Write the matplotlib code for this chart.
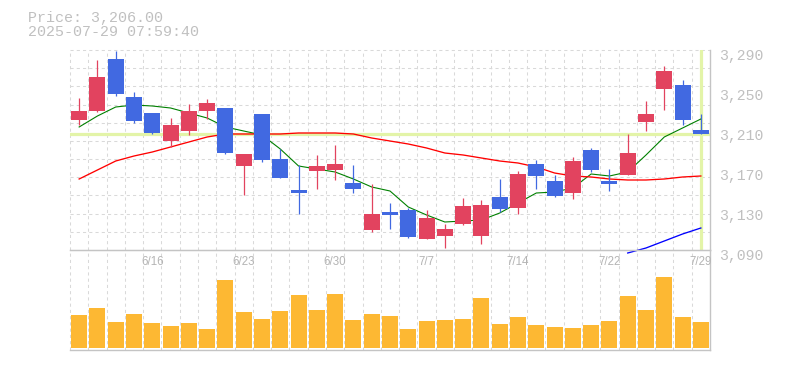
import numpy as np
import matplotlib
matplotlib.use('Agg')
import matplotlib.pyplot as plt
from matplotlib.transforms import ScaledTranslation, blended_transform_factory

# ---------------- data ----------------
dates = ['6/10', '6/11', '6/12', '6/13', '6/16', '6/17', '6/18', '6/19', '6/20',
         '6/23', '6/24', '6/25', '6/26', '6/27', '6/30', '7/1', '7/2', '7/3', '7/4',
         '7/7', '7/8', '7/9', '7/10', '7/11', '7/14', '7/15', '7/16', '7/17', '7/18',
         '7/22', '7/23', '7/24', '7/25', '7/28', '7/29']
label_dates = ['6/16', '6/23', '6/30', '7/7', '7/14', '7/22', '7/29']

opens = [3220, 3229, 3281, 3243, 3227, 3199, 3209, 3229, 3232, 3174, 3226, 3181,
         3150, 3169, 3170, 3157, 3110, 3128, 3130, 3101, 3104, 3116, 3104, 3143,
         3132, 3176, 3159, 3147, 3190, 3159, 3165, 3218, 3251, 3255, 3210]
closes = [3229, 3263, 3246, 3219, 3207, 3215, 3229, 3237, 3187, 3186, 3180, 3162,
          3147, 3174, 3176, 3151, 3126, 3125, 3103, 3122, 3111, 3134, 3135, 3131,
          3166, 3164, 3144, 3179, 3170, 3156, 3187, 3226, 3269, 3220, 3206]
highs = [3242, 3280, 3289, 3248, 3227, 3222, 3236, 3241, 3232, 3186, 3226, 3191,
         3175, 3185, 3195, 3175, 3156, 3137, 3132, 3130, 3116, 3142, 3140, 3161,
         3169, 3180, 3165, 3183, 3192, 3171, 3206, 3239, 3274, 3260, 3226]
lows = [3215, 3228, 3244, 3217, 3206, 3193, 3205, 3221, 3186, 3145, 3178, 3162,
        3126, 3151, 3160, 3147, 3108, 3111, 3102, 3101, 3092, 3115, 3096, 3128,
        3126, 3151, 3143, 3141, 3168, 3149, 3165, 3209, 3230, 3215, 3206]

ma_short = [3213, 3224, 3233, 3235, 3234, 3232, 3227, 3222, 3213, 3209, 3205, 3191,
            3174, 3171, 3168, 3161, 3153, 3149, 3133, 3125, 3118, 3119, 3120, 3127,
            3137, 3147, 3148, 3152, 3166, 3164, 3168, 3185, 3203, 3212, 3221]
ma_mid = [3161, 3170, 3179, 3184, 3188, 3193, 3198, 3203, 3206, 3206, 3206, 3206,
          3207, 3207, 3207, 3206, 3202, 3199, 3196, 3192, 3187, 3185, 3182, 3179,
          3177, 3173, 3167, 3164, 3163, 3161, 3160, 3160, 3161, 3163, 3164]
ma_long = [np.nan] * 30 + [3087, 3092, 3099, 3106, 3112]

volume = [33, 40, 26, 34, 25, 22, 25, 19, 68, 36, 29, 37, 53, 38, 54, 28, 34, 32,
          19, 27, 28, 29, 50, 24, 31, 23, 21, 20, 23, 27, 52, 38, 71, 31, 26]

price_ticks = [3290, 3250, 3210, 3170, 3130, 3090]
price_labels = ['3,290', '3,250', '3,210', '3,170', '3,130', '3,090']

last_price_text = 'Price: 3,206.00'
time_text = '2025-07-29 07:59:40'
last_price = 3206

# ---------------- style ----------------
UP = '#e2435f'
DOWN = '#4169e1'
VOL = '#fdb833'
HL = '#e3f4a8'
GRID = '#d9d9d9'
BORDER = '#c4c4c4'
TXT = '#c0c0c0'

fig = plt.figure(figsize=(7.85, 3.70), dpi=100)
W, H = 785, 370
ax = fig.add_axes([70 / W, 120 / H, 640 / W, 200 / H])
axv = fig.add_axes([70 / W, 20 / H, 640 / W, 100 / H])

n = len(dates)
x = np.arange(n)

for a in (ax, axv):
    a.set_xlim(-0.5, n - 0.5)
    a.set_facecolor('none')
    for s in ('top', 'left'):
        a.spines[s].set_visible(False)
    for s in ('right', 'bottom'):
        a.spines[s].set_color(BORDER)
        a.spines[s].set_linewidth(1.0)
    a.set_xticks([])
    for k in range(n):
        a.axvline(k - 0.5, color=GRID, lw=0.75, ls=(0, (3, 3)), zorder=0, clip_on=False)

ax.set_ylim(3090, 3290)
axv.set_ylim(-2, 98)
axv.set_yticks([])
axv.spines['top'].set_visible(True)
axv.spines['top'].set_color(BORDER)

for k in range(1, 12):
    ax.axhline(3090 + 200 * k / 11, color=GRID, lw=0.75, ls=(0, (3, 3)), zorder=0, clip_on=False)

# highlight lines
ax.axhline(last_price, color=HL, lw=2.3, zorder=1)
ax.axvline(x[-1], ymin=0.005, ymax=0.995, color=HL, lw=2.3, zorder=1)

# moving averages
ax.plot(x, ma_short, color='#008000', lw=0.8, zorder=2)
ax.plot(x, ma_mid, color='#ff0000', lw=0.95, zorder=2)
ax.plot(x, ma_long, color='#0000ff', lw=0.95, zorder=2, clip_on=False)

# candles
o = np.array(opens, float)
c = np.array(closes, float)
cols = [UP if ci >= oi else DOWN for oi, ci in zip(o, c)]
ax.vlines(x, lows, highs, colors=cols, lw=0.9, zorder=3)
ax.bar(x, np.maximum(np.abs(c - o), 1), bottom=np.minimum(o, c), width=0.88,
       color=cols, zorder=4, linewidth=0)

# volume
axv.bar(x, volume, width=0.88, color=VOL, zorder=2, linewidth=0)

# price axis labels on right
ax.yaxis.tick_right()
ax.set_yticks(price_ticks)
ax.set_yticklabels(price_labels, family='Liberation Mono', fontsize=10.7, color=TXT)
ax.tick_params(axis='y', length=0, pad=6.5)
for lab in ax.get_yticklabels():
    lab.set_transform(lab.get_transform() + ScaledTranslation(0, -3 / 72, fig.dpi_scale_trans))

# date labels
tr = blended_transform_factory(axv.transData, axv.transAxes)
for d in label_dates:
    i = dates.index(d)
    axv.text(i, 0.877, d, transform=tr, ha='center', va='center',
             family='Liberation Sans', fontsize=8.3, color='#b4b4b4', zorder=3)

# header text
fig.text(28 / W, 1 - 18.3 / H, last_price_text, family='Liberation Mono',
         fontsize=10.8, color=TXT, va='center', ha='left')
fig.text(28 / W, 1 - 32.5 / H, time_text, family='Liberation Mono',
         fontsize=10.8, color=TXT, va='center', ha='left')

fig.savefig('out.png', dpi=100)
